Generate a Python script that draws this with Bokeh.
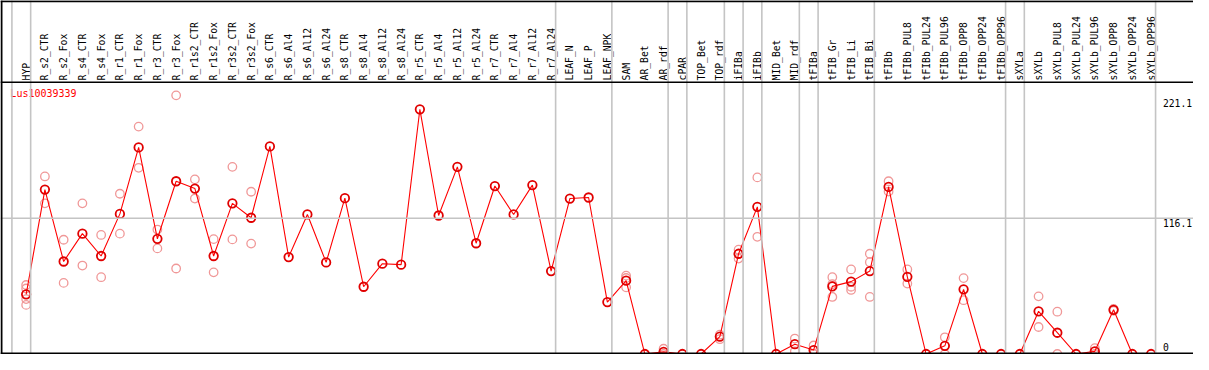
import math
from bokeh.plotting import figure
from bokeh.models import Range1d, Span, ColumnDataSource
from bokeh.core.properties import value
from bokeh.embed import file_html
from bokeh.resources import INLINE

# ---------------- data ----------------
samples = ["HYP", "R_s2_CTR", "R_s2_Fox", "R_s4_CTR", "R_s4_Fox", "R_r1_CTR", "R_r1_Fox",
           "R_r3_CTR", "R_r3_Fox", "R_r1s2_CTR", "R_r1s2_Fox", "R_r3s2_CTR", "R_r3s2_Fox",
           "R_s6_CTR", "R_s6_Al4", "R_s6_Al12", "R_s6_Al24", "R_s8_CTR", "R_s8_Al4",
           "R_s8_Al12", "R_s8_Al24", "R_r5_CTR", "R_r5_Al4", "R_r5_Al12", "R_r5_Al24",
           "R_r7_CTR", "R_r7_Al4", "R_r7_Al12", "R_r7_Al24", "LEAF_N", "LEAF_P", "LEAF_NPK",
           "SAM", "AR_Bet", "AR_rdf", "cPAR", "TOP_Bet", "TOP_rdf", "iFIBa", "iFIBb",
           "MID_Bet", "MID_rdf", "tFIBa", "tFIB_Gr", "tFIB_Li", "tFIB_Bi", "tFIBb",
           "tFIBb_PUL8", "tFIBb_PUL24", "tFIBb_PUL96", "tFIBb_OPP8", "tFIBb_OPP24",
           "tFIBb_OPP96", "sXYLa", "sXYLb", "sXYLb_PUL8", "sXYLb_PUL24", "sXYLb_PUL96",
           "sXYLb_OPP8", "sXYLb_OPP24", "sXYLb_OPP96"]

means = [51.0, 140.6, 79.1, 102.9, 83.8, 119.8, 176.6, 98.5, 147.7, 141.4,
         83.8, 128.8, 116.5, 177.5, 82.9, 119.3, 78.3, 133.2, 57.5, 77.2,
         76.4, 209.2, 118.4, 160.0, 94.7, 143.6, 119.3, 144.4, 70.9, 132.9,
         133.8, 44.4, 62.7, 0.0, 1.8, 0.0, 0.0, 14.9, 85.7, 125.8,
         0.0, 8.4, 3.4, 57.8, 61.9, 70.9, 142.8, 66.0, 0.0, 7.0,
         55.3, 0.0, 0.0, 0.0, 36.5, 18.2, 0.0, 2.3, 37.8, 0.0, 0.0]

replicates = [
    [59.0, 56.0, 47.0, 42.0], [151.8, 128.8], [97.7, 60.8], [128.8, 75.6], [101.8, 65.7],
    [137.0, 102.9], [194.4, 159.2], [106.4, 90.3], [221.1, 73.1], [149.3, 132.9],
    [98.2, 69.8], [160.0, 98.0], [138.7, 94.4], [], [], [], [], [], [], [],
    [], [], [], [], [], [], [], [], [], [],
    [], [], [67.0, 65.0, 57.0], [], [4.5, 0.0], [], [], [16.5, 12.7], [89.2, 81.6], [151.0, 100.2],
    [], [13.2, 2.3], [7.3, 0.0], [65.7, 59.7, 48.8], [72.3, 57.5, 54.8], [85.7, 78.5, 48.8],
    [147.7, 138.9], [72.3, 60.2], [], [14.3, 0.0],
    [64.9, 46.0], [], [], [], [49.3, 23.1], [36.2, 0.0], [], [5.0, 0.0], [38.5, 37.0], [], [],
]

# group separators follow these sample indices (-1 = left edge)
group_ends = [-1, 0, 28, 31, 34, 35, 37, 38, 39, 41, 42, 45, 52, 53, 60]

tick_values = [221.1, 116.1, 0.0]
tick_labels = ["221.1", "116.1", "0"]
gridline_values = [116.1]
title = "Lus10039339"

# ---------------- layout ----------------
REF_W, REF_H = 1209, 370
W, H = 1193, 354
X0, DX = 26.0, 19.0          # reference px of first column, column pitch
Y0, PPU = 369.5, 1.2227      # reference px of zero, px per unit


def v_of(refy):
    return (Y0 - refy) / PPU


def i_of(refx):
    return (refx - X0) / DX


FONT = value("DejaVu Sans Mono")
FS = "9.7px"

p = figure(width=W, height=H, output_backend="svg", toolbar_location=None,
           x_range=Range1d(i_of(0), i_of(REF_W)), y_range=Range1d(v_of(REF_H), v_of(0)),
           x_axis_location=None, y_axis_location=None, min_border=0)
p.grid.visible = False
p.outline_line_color = None
p.background_fill_color = "white"
p.border_fill_color = "white"

GRAY = "#c4c4c4"
for g in group_ends:
    p.add_layout(Span(location=g + 0.24, dimension="height", line_color=GRAY, line_width=1.6))
for gv in gridline_values:
    p.add_layout(Span(location=gv, dimension="width", line_color=GRAY, line_width=1.6))

# black frame lines
p.add_layout(Span(location=v_of(0.8), dimension="width", line_color="black", line_width=2))
p.add_layout(Span(location=v_of(85.5), dimension="width", line_color="black", line_width=1.5))
p.add_layout(Span(location=v_of(369.0), dimension="width", line_color="black", line_width=2))
p.add_layout(Span(location=i_of(1.0), dimension="height", line_color="black", line_width=2))

# replicate points
rx, ry = [], []
for i, reps in enumerate(replicates):
    for r in reps:
        rx.append(i)
        ry.append(r)
p.scatter(rx, ry, marker="circle", size=8.5, fill_color=None, line_color="#f09898", line_width=1.3)

idx = list(range(len(samples)))
p.line(idx, means, line_color="red", line_width=1.1)
p.scatter(idx, means, marker="circle", size=8.5, fill_color=None, line_color="#e00000", line_width=1.8)

# column labels
src = ColumnDataSource(dict(x=idx, y=[v_of(83.5)] * len(samples), t=samples))
p.text(x="x", y="y", text="t", source=src, angle=math.pi / 2, text_align="left",
       text_baseline="middle", text_font=FONT, text_font_size=FS, text_color="black")

# title
p.text(x=[i_of(10)], y=[v_of(97)], text=[title], text_align="left", text_baseline="middle",
       text_font=FONT, text_font_size="10px", text_color="red")

# right value labels
label_off_px = [7.8, 4.5, -7.5]
p.text(x=[i_of(1178)] * 3, y=[tv - off / PPU for tv, off in zip(tick_values, label_off_px)],
       text=tick_labels, text_align="left", text_baseline="middle",
       text_font=FONT, text_font_size=FS, text_color="black")

open("out.html", "w").write(file_html(p, INLINE))
